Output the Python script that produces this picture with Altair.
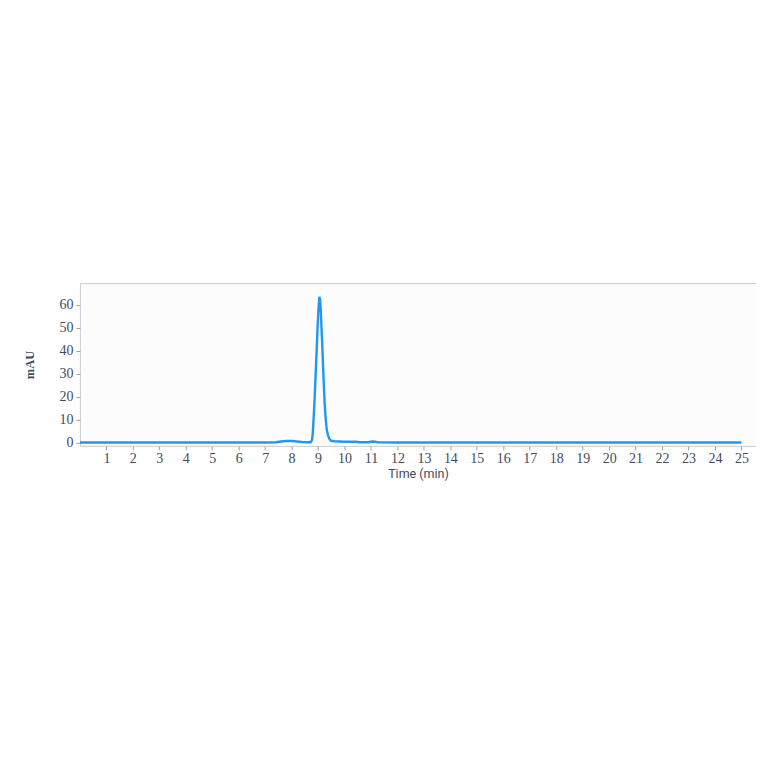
import altair as alt
import pandas as pd

time_min = [0.0, 7.0, 7.4, 7.6, 7.8, 8.0, 8.2, 8.4, 8.6, 8.72, 8.77, 8.8, 8.83, 8.87,
            8.91, 8.95, 8.98, 9.02, 9.05, 9.08, 9.1, 9.15, 9.2, 9.25, 9.29, 9.33,
            9.38, 9.43, 9.48, 9.6, 9.8, 10.0, 10.2, 10.4, 10.6, 10.9, 11.05, 11.15,
            11.3, 12.0, 25.0]
mau = [0.0, 0.0, 0.1, 0.4, 0.6, 0.6, 0.4, 0.2, 0.1, 0.1, 1.0, 4.0, 10.0, 19.0,
       30.0, 41.0, 50.0, 59.0, 63.5, 62.0, 58.0, 45.0, 30.0, 17.0, 10.0, 5.5,
       3.0, 1.5, 0.8, 0.5, 0.4, 0.3, 0.3, 0.3, 0.1, 0.1, 0.4, 0.3,
       0.05, 0.0, 0.0]

x_ticks = list(range(1, 26))
y_ticks = [0, 10, 20, 30, 40, 50, 60]

df = pd.DataFrame({"t": time_min, "v": mau})

line = alt.Chart(df).mark_line(color="#2196f3", strokeWidth=2.4, clip=True).encode(
    x=alt.X("t:Q", scale=alt.Scale(domain=[0, 25.55], nice=False, zero=False),
            axis=alt.Axis(values=x_ticks, title="Time (min)", grid=False, domain=False,
                          labelFont="Liberation Serif", labelFontSize=14, labelColor="#3f4a5c",
                          tickColor="#9aa3b0", tickSize=4, labelPadding=2,
                          titleFont="Roboto", titleFontSize=12.5, titleFontWeight="normal",
                          titleColor="#3f4a5c", titlePadding=2)),
    y=alt.Y("v:Q", scale=alt.Scale(domain=[-1.5, 69.5], nice=False, zero=False),
            axis=alt.Axis(values=y_ticks, title="mAU", grid=False, domain=False,
                          labelFont="Liberation Serif", labelFontSize=14, labelColor="#3f4a5c",
                          tickColor="#9aa3b0", tickSize=4, labelPadding=3,
                          titleFont="Liberation Serif", titleFontSize=12.5, titleFontWeight="bold",
                          titleColor="#3f4a5c", titlePadding=22)),
)

chart = line.properties(
    width=677, height=163,
    autosize=alt.AutoSizeParams(type="none"),
    padding={"left": 72, "top": 275, "right": 0, "bottom": 260},
    background="white",
).configure_view(
    stroke="#c8ccd4", strokeWidth=1, fill="#fcfcfd"
)

chart.save("out.html", embed_options={"renderer": "svg", "actions": False})
